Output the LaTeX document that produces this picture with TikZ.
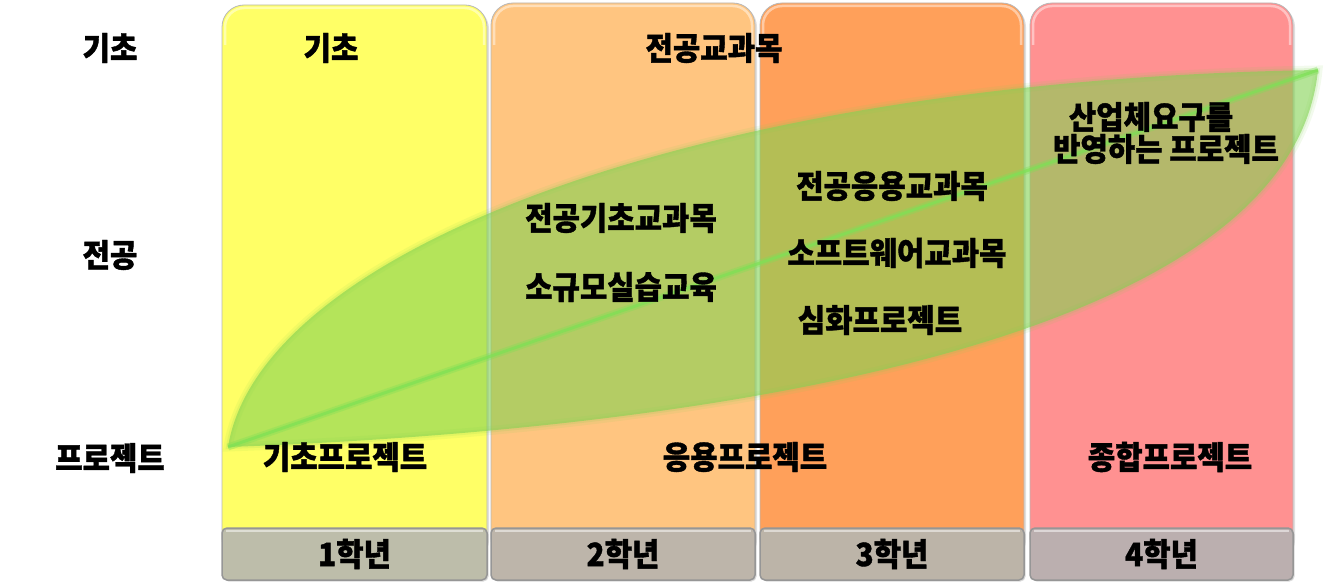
\documentclass[tikz,border=0pt]{standalone}
\usepackage{fontspec}
\newfontfamily\kr{Noto Sans CJK KR}[FakeStretch=0.93, BoldFeatures={FakeBold=1.2}]
\usetikzlibrary{shadows}
\definecolor{cA}{RGB}{255,255,102}
\definecolor{cB}{RGB}{255,197,128}
\definecolor{cC}{RGB}{255,160,90}
\definecolor{cD}{RGB}{255,145,145}
\definecolor{gA}{RGB}{189,189,170}
\definecolor{gB}{RGB}{189,181,170}
\definecolor{gC}{RGB}{188,180,168}
\definecolor{gD}{RGB}{187,175,175}
\definecolor{leaf}{RGB}{130,210,82}
\definecolor{rib}{RGB}{125,225,85}
\definecolor{edge}{RGB}{150,150,150}
\begin{document}
\begin{tikzpicture}[x=1pt,y=-1pt,
  txt/.style={font=\kr\bfseries\fontsize{32}{36}\selectfont, inner sep=0pt, text=black},
  colbody/.style={draw=black!28, line width=0.8pt, rounded corners=22pt,
     drop shadow={shadow xshift=2pt, shadow yshift=-2pt, opacity=0.25}},
  bevel/.style={draw=white, draw opacity=0.45, line width=2.5pt, rounded corners=19pt},
  yearbox/.style={txt, draw=edge, line width=1.5pt, rounded corners=5pt,
     minimum height=52pt, drop shadow={shadow xshift=1.5pt, shadow yshift=-1.5pt, opacity=0.3}}]
\useasboundingbox (0,0) rectangle (1327,588);
% columns
\path[colbody, fill=cA] (222,560) -- (222,5) -- (487,5) -- (487,560) -- cycle;
\path[colbody, fill=cB] (491,560) -- (491,3) -- (755,3) -- (755,560) -- cycle;
\path[colbody, fill=cC] (760,560) -- (760,3) -- (1024,3) -- (1024,560) -- cycle;
\path[colbody, fill=cD] (1030,560) -- (1030,3) -- (1293,3) -- (1293,560) -- cycle;
\path[bevel] (225,45) -- (225,8) -- (484,8) -- (484,45);
\path[bevel] (494,45) -- (494,6) -- (752,6) -- (752,45);
\path[bevel] (763,45) -- (763,6) -- (1021,6) -- (1021,45);
\path[bevel] (1033,45) -- (1033,6) -- (1290,6) -- (1290,45);
% year boxes
\node[yearbox, fill=gA, minimum width=265pt] (y1) at (354.5,554) {1학년};
\node[yearbox, fill=gB, minimum width=264pt] (y2) at (623,554) {2학년};
\node[yearbox, fill=gC, minimum width=264pt] (y3) at (892,554) {3학년};
\node[yearbox, fill=gD, minimum width=263pt] (y4) at (1161.5,554) {4학년};
\draw[white, opacity=0.5, line width=1.5pt] (226,531) -- (483,531);
\draw[white, opacity=0.5, line width=1.5pt] (495,531) -- (751,531);
\draw[white, opacity=0.5, line width=1.5pt] (764,531) -- (1020,531);
\draw[white, opacity=0.5, line width=1.5pt] (1034,531) -- (1289,531);
% leaf
\coordinate (tA) at (228,447);
\coordinate (tB) at (1318,70);
\path[draw=leaf, draw opacity=0.10, line width=9pt]
  (tA) .. controls (260,250) and (700,80) .. (tB) .. controls (1290,345) and (700,430) .. (tA) -- cycle;
\path[draw=leaf, draw opacity=0.15, line width=4pt]
  (tA) .. controls (260,250) and (700,80) .. (tB) .. controls (1290,345) and (700,430) .. (tA) -- cycle;
\path[fill=leaf, fill opacity=0.6]
  (tA) .. controls (260,250) and (700,80) .. (tB) .. controls (1290,345) and (700,430) .. (tA) -- cycle;
\draw[draw=rib, draw opacity=0.35, line width=7pt] (tA) -- (tB);
\draw[draw=rib, draw opacity=0.7, line width=3pt] (tA) -- (tB);
% row labels
\node[txt] (rA) at (110,48) {기초};
\node[txt] (rB) at (110,255) {전공};
\node[txt] (rC) at (110,458) {프로젝트};
% column texts
\node[txt] (k1) at (331,48) {기초};
\node[txt] (k2) at (714,48) {전공교과목};
\node[txt] (p1) at (345,457) {기초프로젝트};
\node[txt] (p2) at (745,457) {응용프로젝트};
\node[txt] (p3) at (1170,457) {종합프로젝트};
\node[txt] (m1) at (621,218) {전공기초교과목};
\node[txt] (m2) at (621,287) {소규모실습교육};
\node[txt] (m3) at (892,186) {전공응용교과목};
\node[txt] (m4) at (897,253) {소프트웨어교과목};
\node[txt] (m5) at (880,320) {심화프로젝트};
\node[txt] (i1) at (1151,117) {산업체요구를};
\node[txt] (i2) at (1166,149) {반영하는 프로젝트};
\end{tikzpicture}
\end{document}
